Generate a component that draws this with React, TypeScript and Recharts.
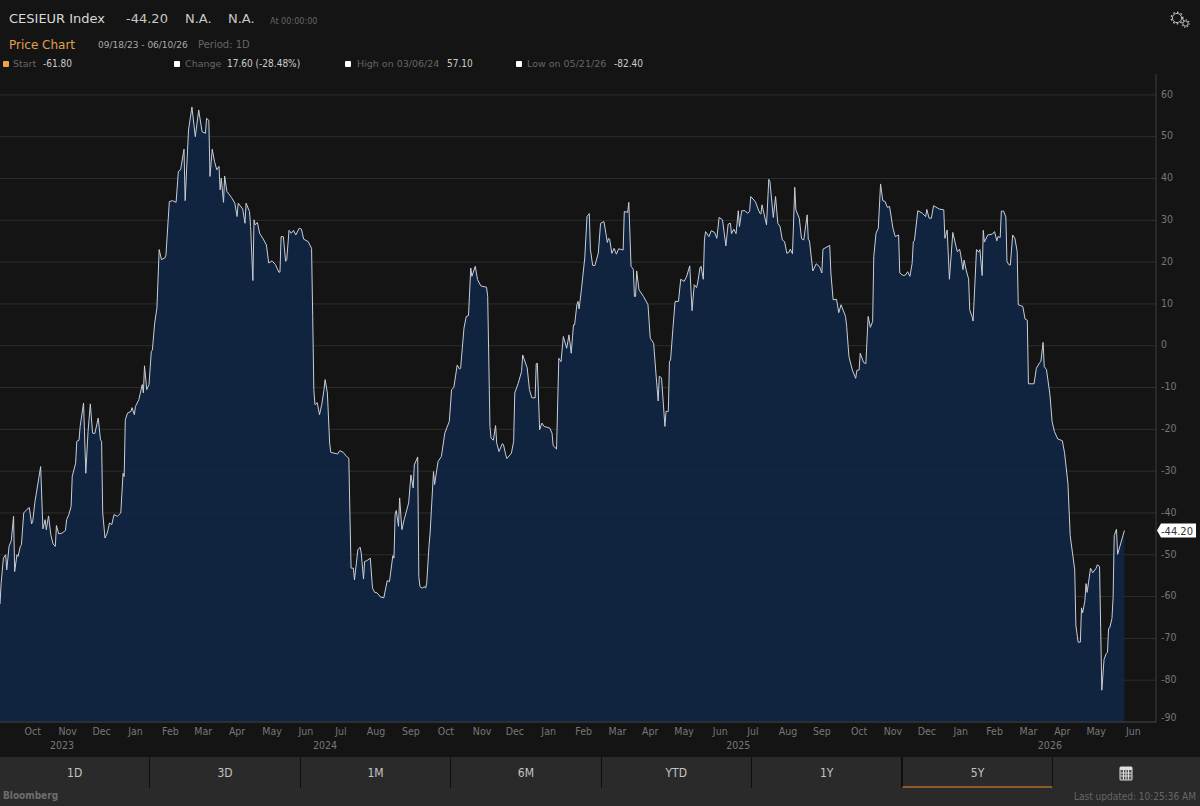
import React from "react";
import {
  AreaChart,
  Area,
  XAxis,
  YAxis,
  CartesianGrid,
  ReferenceLine,
} from "recharts";

// days since 09/18/23
const dayOffsets = [
  0, 1, 3, 5, 6, 8, 10, 12, 13, 15, 16, 18, 19, 21, 24, 26, 28, 29, 31, 32, 36, 38, 40, 41, 43, 45, 47, 49, 50, 52, 55,
  58, 59, 61, 63, 64, 67, 68, 70, 71, 74, 76, 78, 80, 82, 84, 87, 89, 90, 91, 93, 95, 97, 99, 101, 104, 107, 109, 110,
  111, 113, 116, 117, 119, 120, 123, 126, 127, 128, 130, 132, 134, 135, 137, 139, 141, 143, 146, 147, 150, 153, 156,
  158, 160, 163, 164, 167, 170, 173, 176, 179, 182, 183, 185, 186, 188, 190, 192, 194, 195, 196, 198, 199, 201, 205,
  208, 210, 211, 215, 217, 218, 221, 222, 224, 225, 226, 228, 230, 233, 236, 238, 241, 244, 247, 248, 249, 251, 253,
  254, 256, 258, 260, 262, 265, 267, 269, 273, 276, 277, 278, 279, 281, 283, 285, 287, 288, 290, 292, 293, 299, 301,
  304, 307,
  309, 310, 311, 313, 314, 317, 319, 320, 322, 323, 325, 328, 330, 332, 334, 337, 340, 343, 345, 348, 349, 350, 351,
  353, 354, 356, 358, 362, 364, 366, 367, 370, 371, 372, 374, 376, 377, 378, 380, 381, 384, 385, 388, 391, 394, 398,
  400, 402, 405, 407, 408, 411, 413, 415, 417, 418, 421, 423, 426, 431, 432, 434, 435, 437, 439, 440, 442, 445, 446,
  448, 449, 453, 455, 456, 459, 462, 463, 467, 469, 471, 474, 475, 476, 478, 480, 482, 487, 489, 490, 493, 495, 497,
  499, 502, 504, 506, 508, 509, 511, 512, 513, 515, 518, 520, 522, 523, 525, 527, 530, 532, 535, 538, 539, 540, 542,
  544, 546, 548, 552, 553, 556, 557, 559, 561, 562, 563, 564, 566, 570, 574, 576, 579, 581, 583, 584, 586, 589, 590,
  592, 593, 594, 596, 598, 601,
  603, 606, 608, 611, 613, 615, 617, 618, 620, 621, 623, 624, 625, 628, 630, 633, 635, 637, 640, 643, 645, 647, 648,
  650, 652, 654, 655, 657, 660, 662, 664, 665, 669, 673, 674, 675, 678, 679, 681, 682, 685, 687, 689, 691, 693, 695,
  697, 699, 700, 702, 704, 705, 708, 710, 712, 715, 716, 717, 720, 723, 726, 728, 729, 735, 736, 738, 741, 743, 745,
  749, 750, 752, 755, 758, 759, 761, 762, 765, 767, 769, 771, 773, 774, 776, 778, 780, 782, 784, 786, 788, 791, 793,
  796, 797, 800, 802, 804, 806, 808, 809, 810, 813, 817, 820, 821, 823, 825, 827, 832, 836, 837, 839, 841, 844, 847,
  848, 850,
  851, 853, 854, 856, 858, 859, 861, 862, 865, 867, 868, 870, 871, 872, 875, 879, 881, 883, 884, 886, 887, 889, 891,
  892, 894, 895, 897, 899, 901, 902, 906, 908, 910, 911, 916, 918, 921, 922, 924, 925, 927, 930, 932, 934, 937, 941,
  943, 946, 948, 952, 953, 955, 957, 958, 959, 961, 962, 963, 966, 968, 971, 972, 974, 975, 976, 978, 980, 981, 982,
  983, 985, 986, 987, 989, 990, 996,
];

const indexValues = [
  -61.8, -56.8, -50.8, -50.0, -53.6, -48.0, -46.6, -40.8, -54.0, -50.0, -50.4, -48.0, -47.6, -40.0, -39.1, -38.7, -42.6,
  -42.0, -37.2, -35.6, -28.9, -43.8, -41.6, -44.0, -40.7, -45.2, -47.4, -48.0, -43.0, -45.0, -44.8,
  -44.2, -41.6, -40.4, -38.4, -31.2, -28.1, -22.9, -22.6, -19.3, -13.7, -30.5, -20.5, -13.9, -20.9, -21.0, -17.3, -22.5,
  -22.9, -40.0, -46.0, -44.8, -42.4, -42.8, -40.4, -40.8, -40.0, -30.5, -31.3,
  -17.7, -16.1, -15.7, -14.8, -16.5, -14.5, -12.9, -9.3, -11.3, -4.8, -10.5, -9.3, -1.4, -1.0, 5.4, 9.0, 23.0, 20.6,
  21.0, 21.7, 34.5, 34.7, 34.3,
  41.7, 42.1, 47.0, 34.7, 51.6, 57.1, 50.0, 56.4, 51.2, 50.8, 54.4, 53.9, 40.5, 47.0, 44.1, 42.1, 42.9, 37.3, 40.1, 34.3,
  40.6, 36.9, 35.5,
  34.1, 30.9, 34.1, 32.7, 29.3, 34.1, 32.1, 28.5, 15.6, 30.1, 28.9, 29.5, 26.9, 25.6, 24.1, 19.8, 20.3, 19.4, 17.6, 17.6,
  26.1, 26.1, 20.2,
  20.6, 27.6, 26.9, 27.6, 26.5, 28.1, 27.9, 25.5, 24.9, 23.3, 7.0, -10.5, -14.1, -13.6, -16.5, -14.1, -10.5, -8.1, -11.3,
  -23.3, -25.5, -25.9, -25.1,
  -25.5, -26.5,
  -26.9, -40.8, -53.2, -53.2, -56.0, -48.8, -48.2, -49.6, -55.8, -51.6, -51.4, -50.8, -58.0, -59.0, -59.1, -60.1, -60.3,
  -56.2, -56.4, -50.2, -50.8, -40.4, -39.4,
  -43.2, -36.4, -44.0, -41.6, -37.6, -30.9, -34.0, -28.5, -26.6, -55.2, -57.6, -58.0, -57.6, -58.0, -56.8, -48.0, -44.8,
  -30.1, -33.2, -27.7, -26.5, -20.9, -18.1,
  -10.5, -10.0, -4.6, -5.6, -5.4, 4.2, 7.0, 7.2, 18.6, 16.6, 19.0, 15.8, 14.3, 14.0, 11.8, -19.3, -22.1, -22.6, -19.1,
  -23.3, -25.3, -23.4, -23.7,
  -26.1, -27.0, -25.7, -22.9, -11.3, -9.0, -6.2, -2.2, -5.3, -10.5, -12.4, -12.5, -4.3, -4.2, -20.1, -18.5, -19.3, -19.7,
  -20.9, -23.9, -24.7, -3.0, -3.8,
  2.2, -0.6, 2.6, -1.8, 5.0, 5.0, 9.8, 10.6, 8.8, 13.4, 21.0, 30.9, 31.6, 23.0, 19.2, 19.2, 22.2, 29.3, 29.7, 24.7, 25.7,
  25.5, 22.1,
  23.3, 21.9, 23.2, 22.9, 32.1, 31.9, 34.3, 19.0, 18.3, 11.8, 11.8, 17.9, 13.4, 11.8, 9.8, 1.8, 0.6, -6.5, -13.2, -7.3,
  -7.7, -19.3, -15.7,
  -15.7, -3.8, -3.4, 3.8, 10.6, 10.6,
  15.9, 15.4, 16.4, 19.1, 8.4, 14.6, 13.9, 15.0, 18.6, 19.0, 15.9, 25.3, 27.3, 26.1, 27.5, 27.1, 25.7, 30.7, 30.1, 23.9,
  29.1, 29.3, 26.8,
  27.9, 26.8, 32.3, 28.5, 32.3, 32.3, 31.7, 32.1, 35.7, 34.5, 31.7, 31.5, 33.7, 30.1, 28.9, 39.8, 39.3, 30.7, 35.7, 29.3,
  28.5, 25.3, 24.9,
  22.1, 22.4, 23.1, 22.0, 37.9, 32.5, 30.5, 25.6, 25.3, 31.3, 25.3, 25.2, 17.9, 19.6, 18.9, 17.4, 23.1, 24.0, 17.4, 11.0,
  11.1, 7.9, 9.8,
  7.0, 4.6, -2.6, -5.8, -7.8, -5.9, -5.8, -1.8, -4.0, -4.3, 7.0, 4.4, 5.8, 21.3, 26.9, 28.1, 38.7, 34.7, 34.5, 33.1, 33.3,
  28.1, 26.1,
  26.5, 17.4, 16.8, 16.9, 17.7, 16.6, 19.7, 24.9, 25.1, 32.3, 31.7, 30.9, 32.6, 30.5, 30.5, 33.5, 32.7, 32.5, 25.7, 27.7,
  15.9, 27.1, 23.6,
  22.5, 23.1,
  21.8, 18.2, 20.5, 17.9, 16.0, 8.6, 7.0, 5.9, 23.0, 22.4, 23.0, 16.8, 27.6, 24.8, 26.5, 26.7, 27.3, 25.1, 26.1, 25.9,
  32.2, 32.2, 30.8,
  20.1, 19.3, 19.3, 26.5, 25.7, 22.6, 9.8, 9.4, 6.4, 6.1, -9.1, -9.1, -5.4, -4.0, -3.8, 0.8, -5.0, -5.7, -11.6, -18.2,
  -20.5, -22.3, -22.7,
  -25.6, -33.0, -45.4, -53.6, -66.8, -70.9, -70.9, -62.7, -63.9, -61.0, -56.9, -59.0, -53.2, -54.3, -53.2, -52.4, -52.8,
  -67.6, -82.4, -75.0, -73.6, -73.4, -67.6,
  -67.5, -65.2, -60.2, -45.4, -43.9, -49.9, -44.2,
];

const monthTicks = [
  29, 60, 90, 120, 151, 180, 210, 241, 271, 302, 333, 364, 395, 427, 456, 486, 517, 547, 576, 606, 638, 667, 698, 728,
  761, 791, 821, 851, 881, 911, 941, 971, 1004,
];
const monthLabels = [
  "Oct", "Nov", "Dec", "Jan", "Feb", "Mar", "Apr", "May", "Jun", "Jul", "Aug", "Sep", "Oct", "Nov", "Dec", "Jan", "Feb",
  "Mar", "Apr", "May", "Jun", "Jul", "Aug", "Sep", "Oct", "Nov", "Dec", "Jan", "Feb", "Mar", "Apr", "May", "Jun",
];
const yearTicks = [55, 288, 654, 930];
const yearLabels = ["2023", "2024", "2025", "2026"];
const valueTicks = [-90, -80, -70, -60, -50, -40, -30, -20, -10, 0, 10, 20, 30, 40, 50, 60];
const periodLabels = ["1D", "3D", "1M", "6M", "YTD", "1Y", "5Y"];

const chartData = dayOffsets.map((day, i) => ({ day, value: indexValues[i] }));
const lastValue = indexValues[indexValues.length - 1];

const NARROW = "'DejaVu Sans Condensed', 'DejaVu Sans', sans-serif";
const WIDE = "'DejaVu Sans', sans-serif";

function Txt({ x, y, size = 10, color = "#777", weight = 400, right, font = WIDE, children }: any) {
  const pos: any = right !== undefined ? { right } : { left: x };
  return (
    <div
      style={{
        position: "absolute",
        top: y,
        ...pos,
        fontSize: size,
        fontFamily: font,
        color,
        fontWeight: weight,
        lineHeight: "14px",
        whiteSpace: "nowrap",
      }}
    >
      {children}
    </div>
  );
}

function Square({ x, color = "#fff" }: any) {
  return (
    <div style={{ position: "absolute", left: x, top: 61, width: 6, height: 6, background: color, borderRadius: 1 }} />
  );
}

function PriceTag(props: any) {
  const { x, y, width } = props.viewBox;
  const left = x + width + 1;
  return (
    <g>
      <path
        d={`M${left} ${y} L${left + 4} ${y - 7} H${left + 39} V${y + 7} H${left + 4} Z`}
        fill="#fff"
      />
      <text x={left + 20} y={y + 4} textAnchor="middle" fontSize={11} fill="#333" fontFamily={NARROW}>
        {lastValue.toFixed(2)}
      </text>
    </g>
  );
}

// the lowest label sits a little higher, inside the frame
function ValueTick({ x, y, payload }: any) {
  const shift = payload.value === valueTicks[0] ? 5 : 1;
  return (
    <text x={x} y={y - shift} dy="0.355em" textAnchor="start" fontSize={10.5} fill="#777" fontFamily={NARROW}>
      {payload.value}
    </text>
  );
}

function Gears() {
  return (
    <svg style={{ position: "absolute", left: 1170, top: 11 }} width={22} height={18}>
      <circle cx={7} cy={7} r={4.6} fill="none" stroke="#bbb" strokeWidth={1} />
      <circle cx={7} cy={7} r={5.8} fill="none" stroke="#bbb" strokeWidth={1.4} strokeDasharray="1.6 2.2" />
      <circle cx={15.5} cy={12.5} r={2.6} fill="none" stroke="#bbb" strokeWidth={1} />
      <circle cx={15.5} cy={12.5} r={3.6} fill="none" stroke="#bbb" strokeWidth={1.2} strokeDasharray="1.2 1.6" />
    </svg>
  );
}

function CalendarIcon() {
  return (
    <svg style={{ position: "absolute", left: 1119, top: 765 }} width={14} height={16}>
      <rect x={0.5} y={1.5} width={13} height={14} rx={1.5} fill="#ddd" />
      <rect x={1.5} y={5} width={11} height={9.5} fill="#555" />
      <path d="M1.5 8H12.5M1.5 11H12.5M4.5 5V14.5M7 5V14.5M9.5 5V14.5" stroke="#ddd" strokeWidth={1} />
    </svg>
  );
}

export default function App() {
  return (
    <div
      style={{
        position: "absolute",
        left: 0,
        top: 0,
        width: 1200,
        height: 806,
        background: "#141414",
        fontFamily: NARROW,
        overflow: "hidden",
      }}
    >
      <Txt x={9} y={12} size={13} color="#d9d9d9">CESIEUR Index</Txt>
      <Txt x={126} y={12} size={13} color="#c8c8c8">-44.20</Txt>
      <Txt x={185} y={12} size={13} color="#c8c8c8">N.A.</Txt>
      <Txt x={228} y={12} size={13} color="#c8c8c8">N.A.</Txt>
      <Txt x={270} y={14} size={9} color="#666" font={NARROW}>At 00:00:00</Txt>

      <Txt x={9} y={38} size={12} color="#e0a04e">Price Chart</Txt>
      <Txt x={98} y={38} size={9} color="#aaa">09/18/23 - 06/10/26</Txt>
      <Txt x={198} y={38} size={10} color="#666">Period: 1D</Txt>

      <Square x={3} color="#f0a24a" />
      <Txt x={13} y={57} size={9.5} color="#666">Start</Txt>
      <Txt x={43} y={57} size={10} color="#ccc" font={NARROW}>-61.80</Txt>
      <Square x={174} />
      <Txt x={185} y={57} size={9.5} color="#666">Change</Txt>
      <Txt x={227} y={57} size={10} color="#ccc" font={NARROW}>17.60 (-28.48%)</Txt>
      <Square x={345} />
      <Txt x={357} y={57} size={9.5} color="#666">High on 03/06/24</Txt>
      <Txt x={447} y={57} size={10} color="#ccc" font={NARROW}>57.10</Txt>
      <Square x={516} />
      <Txt x={527} y={57} size={9.5} color="#666">Low on 05/21/26</Txt>
      <Txt x={614} y={57} size={10} color="#ccc" font={NARROW}>-82.40</Txt>
      <Gears />

      <div style={{ position: "absolute", left: 0, top: 0 }}>
        <AreaChart
          width={1200}
          height={757}
          data={chartData}
          margin={{ top: 74, right: 0, bottom: 0, left: 0 }}
        >
          <CartesianGrid vertical={false} syncWithTicks stroke="#2e2e2e" strokeWidth={1} />
          <XAxis
            dataKey="day"
            type="number"
            domain={[0, 1024]}
            ticks={monthTicks}
            interval={0}
            height={12}
            tickLine={false}
            axisLine={{ stroke: "#3c3c3c" }}
            tickMargin={0}
            tick={{ fill: "#777", fontSize: 10.5, fontFamily: NARROW }}
            tickFormatter={(v: number) => monthLabels[monthTicks.indexOf(v)]}
          />
          <XAxis
            xAxisId="year"
            dataKey="day"
            type="number"
            domain={[0, 1024]}
            ticks={yearTicks}
            interval={0}
            height={23}
            tickLine={false}
            axisLine={false}
            tick={{ fill: "#777", fontSize: 10.5, fontFamily: NARROW }}
            tickFormatter={(v: number) => yearLabels[yearTicks.indexOf(v)]}
          />
          <YAxis
            orientation="right"
            domain={[-90, 65]}
            ticks={valueTicks}
            interval={0}
            width={44}
            tickLine={false}
            tickSize={0}
            tickMargin={5}
            axisLine={{ stroke: "#3c3c3c" }}
            tick={<ValueTick />}
          />
          <Area
            type="linear"
            dataKey="value"
            baseValue={-90}
            stroke="#c8ced8"
            strokeWidth={1}
            fill="#0f2647"
            fillOpacity={0.85}
            dot={false}
            activeDot={false}
            isAnimationActive={false}
          />
          <ReferenceLine
            y={lastValue}
            stroke="none"
            label={(p: any) => <PriceTag viewBox={p.viewBox} />}
          />
        </AreaChart>
      </div>

      <div style={{ position: "absolute", left: 0, top: 757, width: 1200, height: 49, background: "#2a2a2a" }} />
      {periodLabels.map((label, i) => (
        <div
          key={label}
          style={{
            position: "absolute",
            left: i * 150.4,
            top: 757,
            width: 150.4,
            height: 31,
            lineHeight: "32px",
            textAlign: "center",
            fontSize: 12,
            color: "#c4c4c4",
            boxSizing: "border-box",
            borderRight: "1px solid #0e0e0e",
            borderLeft: label === "5Y" ? "1px solid #0e0e0e" : undefined,
            borderBottom: label === "5Y" ? "2px solid #8b5a28" : undefined,
          }}
        >
          {label}
        </div>
      ))}
      <CalendarIcon />
      <Txt x={3} y={789} size={10} color="#6e6e6e" weight={700} font={NARROW}>Bloomberg</Txt>
      <Txt right={4} y={790} size={10} color="#666" font={NARROW}>Last updated: 10:25:36 AM</Txt>
    </div>
  );
}
